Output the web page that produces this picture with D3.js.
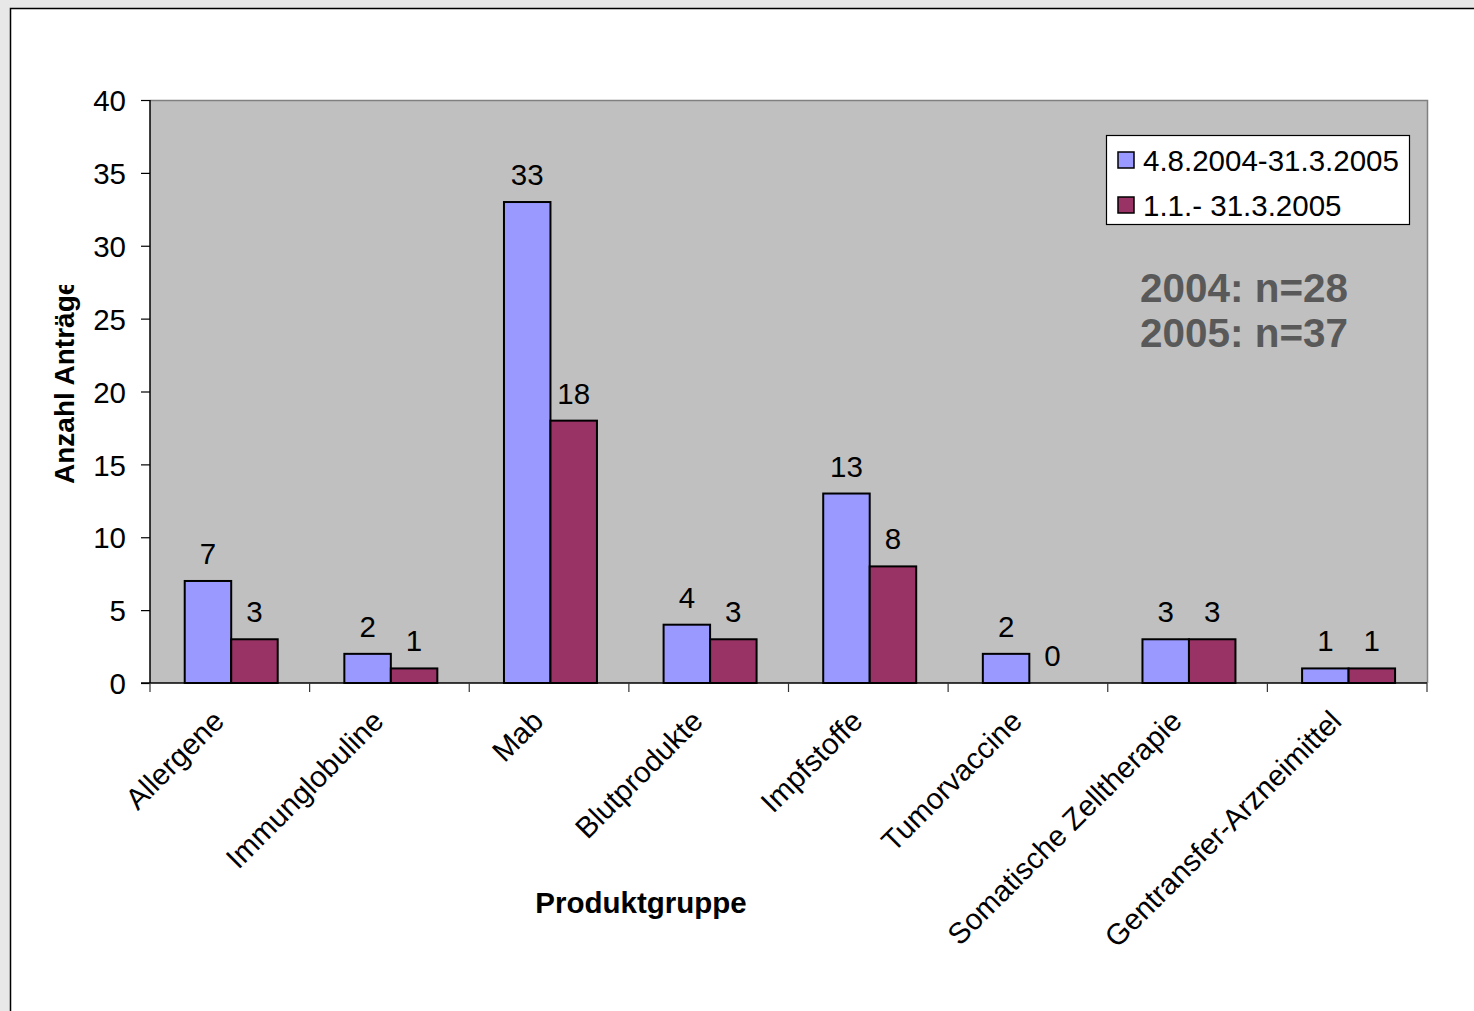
<!DOCTYPE html>
<html>
<head>
<meta charset="utf-8">
<script src="https://cdn.jsdelivr.net/npm/d3@7"></script>
<style>
  html, body { margin: 0; padding: 0; background: #e8e8e8; }
  svg { display: block; }
  text { font-family: "Liberation Sans", Arial, sans-serif; }
</style>
</head>
<body>
<svg id="chart" width="1474" height="1011"></svg>
<script>
const categories = ["Allergene", "Immunglobuline", "Mab", "Blutprodukte", "Impfstoffe", "Tumorvaccine", "Somatische Zelltherapie", "Gentransfer-Arzneimittel"];
const seriesNames = ["4.8.2004-31.3.2005", "1.1.- 31.3.2005"];
const series1 = [7, 2, 33, 4, 13, 2, 3, 1];
const series2 = [3, 1, 18, 3, 8, 0, 3, 1];
const yTicks = [0, 5, 10, 15, 20, 25, 30, 35, 40];
const annotations = ["2004: n=28", "2005: n=37"];
const colors = ["#9999ff", "#993366"];

const FS = 29.5;
const svg = d3.select("#chart");

// outer white panel
svg.append("rect").attr("x", 0).attr("y", 0).attr("width", 1474).attr("height", 1011).attr("fill", "#e8e8e8");
svg.append("rect").attr("x", 10.5).attr("y", 8.5).attr("width", 1480).attr("height", 1020)
  .attr("fill", "#ffffff").attr("stroke", "#000").attr("stroke-width", 1.5);

const plot = { left: 150, right: 1427, top: 100, bottom: 683 };

const x0 = d3.scaleBand().domain(categories).range([plot.left, plot.right]).padding(0);
const bw = x0.bandwidth();
const x1 = d3.scaleBand().domain(seriesNames).range([bw * 0.2175, bw * 0.8]).padding(0);
const y = d3.scaleLinear().domain([0, 40]).range([plot.bottom, plot.top]);

// plot area background
svg.append("rect").attr("x", plot.left).attr("y", plot.top)
  .attr("width", plot.right - plot.left).attr("height", plot.bottom - plot.top)
  .attr("fill", "#c0c0c0");
// top and right border (gray)
svg.append("path")
  .attr("d", `M${plot.left},${plot.top + 0.5}H${plot.right + 0.5}V${plot.bottom}`)
  .attr("fill", "none").attr("stroke", "#808080").attr("stroke-width", 1.5);

// bars
const data = categories.map((c, i) => ({ cat: c, vals: [series1[i], series2[i]] }));
const groups = svg.append("g").selectAll("g").data(data).join("g")
  .attr("transform", d => `translate(${x0(d.cat)},0)`);
groups.selectAll("rect").data(d => d.vals.map((v, j) => ({ v, s: seriesNames[j], j })))
  .join("rect")
  .attr("x", d => x1(d.s))
  .attr("y", d => y(d.v))
  .attr("width", x1.bandwidth())
  .attr("height", d => y(0) - y(d.v))
  .attr("fill", d => colors[d.j])
  .attr("stroke", "#000").attr("stroke-width", 2);
groups.selectAll("text").data(d => d.vals.map((v, j) => ({ v, s: seriesNames[j], j })))
  .join("text")
  .attr("x", d => x1(d.s) + x1.bandwidth() / 2)
  .attr("y", d => y(d.v) - 17)
  .attr("text-anchor", "middle")
  .attr("font-size", FS)
  .attr("fill", "#000")
  .text(d => d.v);

// y axis
const yAxis = d3.axisLeft(y).tickValues(yTicks).tickSize(9).tickPadding(15);
const gy = svg.append("g").attr("transform", `translate(${plot.left},0)`).call(yAxis);
gy.select(".domain").attr("stroke", "#000").attr("stroke-width", 1.5).attr("d", `M0,${plot.top}V${plot.bottom}`);
gy.selectAll(".tick line").attr("stroke", "#000").attr("stroke-width", 1.2);
gy.selectAll(".tick text").attr("font-size", FS).attr("font-family", "Liberation Sans, Arial, sans-serif").attr("fill", "#000").attr("dy", "0.36em");

// x axis line and ticks at category boundaries
const gx = svg.append("g");
gx.append("line").attr("x1", plot.left - 9).attr("x2", plot.right).attr("y1", plot.bottom).attr("y2", plot.bottom)
  .attr("stroke", "#000").attr("stroke-width", 1.5);
const boundaries = categories.map(c => x0(c)).concat([plot.right]);
gx.selectAll("line.tk").data(boundaries).join("line").attr("class", "tk")
  .attr("x1", d => d).attr("x2", d => d).attr("y1", plot.bottom).attr("y2", plot.bottom + 9)
  .attr("stroke", "#333").attr("stroke-width", 1.2);

// x labels rotated
gx.selectAll("text.xl").data(categories).join("text").attr("class", "xl")
  .attr("transform", d => `translate(${x0(d) + bw / 2 - 4},${plot.bottom + 40}) rotate(-45)`)
  .attr("text-anchor", "end")
  .attr("font-size", FS)
  .attr("fill", "#000")
  .text(d => d);

// axis titles
svg.append("text").attr("x", 641).attr("y", 913).attr("text-anchor", "middle")
  .attr("font-size", 29.5).attr("font-weight", "bold").attr("fill", "#000").text("Produktgruppe");

svg.append("clipPath").attr("id", "yclip").append("rect").attr("x", 0).attr("y", 285).attr("width", 140).attr("height", 400);
svg.append("g").attr("clip-path", "url(#yclip)")
  .append("text")
  .attr("transform", "translate(74,484) rotate(-90)")
  .attr("text-anchor", "start")
  .attr("font-size", 28).attr("font-weight", "bold").attr("fill", "#000")
  .text("Anzahl Anträge");

// legend
const lg = svg.append("g");
lg.append("rect").attr("x", 1106.5).attr("y", 135.5).attr("width", 303).attr("height", 89)
  .attr("fill", "#fff").attr("stroke", "#000").attr("stroke-width", 1.2);
seriesNames.forEach((s, i) => {
  lg.append("rect").attr("x", 1118).attr("y", 152 + i * 45).attr("width", 16).attr("height", 16)
    .attr("fill", colors[i]).attr("stroke", "#000").attr("stroke-width", 1.5);
  lg.append("text").attr("x", 1143).attr("y", 171 + i * 45).attr("font-size", FS).attr("fill", "#000").text(s);
});

// annotation
annotations.forEach((t, i) => {
  svg.append("text").attr("x", 1140).attr("y", 302 + i * 45)
    .attr("font-family", "DejaVu Sans, sans-serif").attr("font-weight", "bold")
    .attr("font-size", 40).attr("fill", "#595959")
    .attr("textLength", 208).attr("lengthAdjust", "spacingAndGlyphs")
    .text(t);
});
</script>
</body>
</html>
